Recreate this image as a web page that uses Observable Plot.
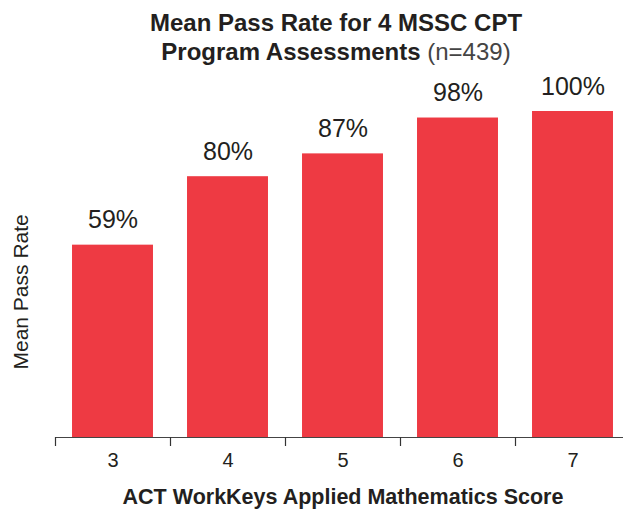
<!DOCTYPE html>
<html>
<head>
<meta charset="utf-8">
<script src="https://cdn.jsdelivr.net/npm/d3@7"></script>
<script src="https://cdn.jsdelivr.net/npm/@observablehq/plot@0.6"></script>
<style>
  html, body { margin: 0; padding: 0; background: #fff; overflow: hidden; }
  body { width: 623px; height: 510px; font-family: "Liberation Sans", Arial, sans-serif; color: #231f20; }
  #title { box-sizing: border-box; height: 70px; padding: 8px 0 0 49px; text-align: center;
           font-size: 24px; font-weight: bold; line-height: 29px; }
  #title .n { font-weight: normal; color: #444; }
  svg { display: block; overflow: hidden; }
</style>
</head>
<body>
<div id="title">Mean Pass Rate for 4 MSSC CPT<br>Program Assessments <span class="n">(n=439)</span></div>
<div id="chart"></div>
<script>
const scores = [3, 4, 5, 6, 7];
const passRates = [59, 80, 87, 98, 100];
const xTitle = "ACT WorkKeys Applied Mathematics Score";
const yTitle = "Mean Pass Rate";

const data = scores.map((s, i) => ({score: s, rate: passRates[i]}));
const boundaries = scores.map(s => s - 0.5).concat([scores[scores.length - 1] + 0.5]);
const half = 0.352;

const chart = Plot.plot({
  width: 623,
  height: 440,
  marginTop: 41,
  marginBottom: 73,
  marginLeft: 55,
  marginRight: -7,
  style: {fontFamily: "Liberation Sans, Arial, sans-serif", color: "#231f20", background: "#fff", overflow: "hidden"},
  x: {domain: [boundaries[0], boundaries[boundaries.length - 1]]},
  y: {domain: [0, 100], axis: null},
  marks: [
    Plot.rectY(data, {x1: d => d.score - half, x2: d => d.score + half, y: "rate", fill: "#ee3a43"}),
    Plot.text(data, {x: "score", y: "rate", text: d => d.rate + "%", dy: -17, lineAnchor: "bottom", fontSize: 25, fill: "#231f20"}),
    Plot.ruleY([0], {stroke: "#444", strokeWidth: 1.2}),
    Plot.axisX({ticks: boundaries, tickFormat: () => "", tickSize: 9, stroke: "#333", strokeWidth: 1.2, label: null}),
    Plot.axisX({ticks: scores, tickFormat: d => String(d), tickSize: 0, tickPadding: 15, fontSize: 20, fill: "#231f20", label: null}),
    Plot.text([xTitle], {frameAnchor: "bottom", text: d => d, dy: 66, lineAnchor: "bottom", fontSize: 21.5, fontWeight: "bold", fill: "#231f20"}),
    Plot.text([yTitle], {frameAnchor: "left", text: d => d, rotate: -90, dx: -34, dy: 95, lineAnchor: "middle", fontSize: 21, fill: "#231f20"})
  ]
});
document.getElementById("chart").appendChild(chart);
</script>
</body>
</html>
